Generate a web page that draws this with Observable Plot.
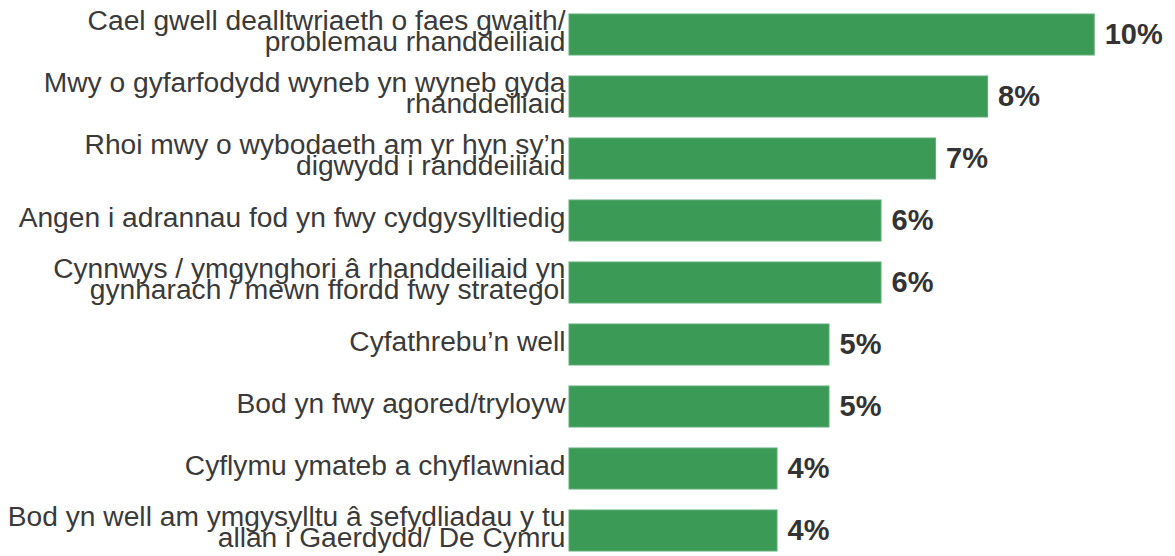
<!DOCTYPE html>
<html>
<head>
<meta charset="utf-8">
<script src="https://cdn.jsdelivr.net/npm/d3@7"></script>
<script src="https://cdn.jsdelivr.net/npm/@observablehq/plot@0.6"></script>
<style>
  html, body { margin: 0; padding: 0; background: #fff; }
  #chart { width: 1175px; height: 556px; }
</style>
</head>
<body>
<div id="chart"></div>
<script>
const categories = [
  "Cael gwell dealltwriaeth o faes gwaith/\nproblemau rhanddeiliaid",
  "Mwy o gyfarfodydd wyneb yn wyneb gyda\nrhanddeiliaid",
  "Rhoi mwy o wybodaeth am yr hyn sy’n\ndigwydd i randdeiliaid",
  "Angen i adrannau fod yn fwy cydgysylltiedig",
  "Cynnwys / ymgynghori â rhanddeiliaid yn\ngynharach / mewn ffordd fwy strategol",
  "Cyfathrebu’n well",
  "Bod yn fwy agored/tryloyw",
  "Cyflymu ymateb a chyflawniad",
  "Bod yn well am ymgysylltu â sefydliadau y tu\nallan i Gaerdydd/ De Cymru"
];
const values = [10.1, 8.05, 7.05, 6.0, 6.0, 5.0, 5.0, 4.0, 4.0];
const valueLabels = ["10%", "8%", "7%", "6%", "6%", "5%", "5%", "4%", "4%"];

const data = categories.map((c, i) => ({cat: c, value: values[i], label: valueLabels[i]}));

const chart = Plot.plot({
  width: 1175,
  height: 556,
  marginLeft: 569,
  marginRight: 86,
  marginTop: 12,
  marginBottom: 3,
  style: {fontFamily: "'Liberation Sans', Arial, sans-serif", background: "#fff"},
  x: {domain: [0, 10], axis: null},
  y: {domain: categories, axis: null, paddingInner: 0.335, paddingOuter: 0},
  marks: [
    Plot.barX(data, {x: "value", y: "cat", fill: "#3c9a57", stroke: "#5fae76", strokeWidth: 1}),
    Plot.text(data, {
      x: 0, y: "cat", text: "cat", textAnchor: "end", dx: -4, dy: -1,
      fontSize: 28.2, lineHeight: 0.72, fill: "#3a3a3a", lineAnchor: "middle"
    }),
    Plot.text(data, {
      x: "value", y: "cat", text: "label", textAnchor: "start", dx: 10, dy: 0,
      fontSize: 29, fontWeight: "bold", fill: "#333333"
    })
  ]
});
document.getElementById("chart").appendChild(chart);
</script>
</body>
</html>
